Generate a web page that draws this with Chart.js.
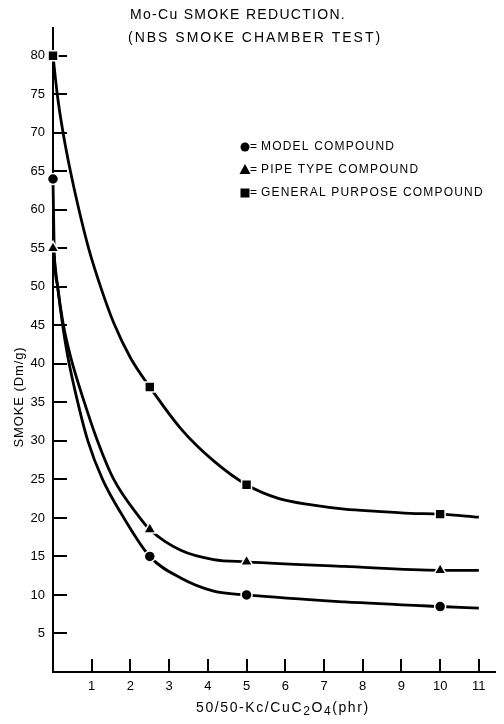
<!doctype html>
<html>
<head>
<meta charset="UTF-8">
<title>Mo-Cu Smoke Reduction</title>
<style>
  body { margin: 0; background: #fff; }
  #wrap { width: 504px; height: 724px; position: relative; }
</style>
</head>
<body>
<div id="wrap"><canvas id="myCanvas"></canvas></div>
<script src="https://cdn.jsdelivr.net/npm/chart.js@4.4.1/dist/chart.umd.min.js"></script>
<script>
// measured points (phr of 50/50 Kc/CuC2O4, smoke Dm/g)
var phr = [0, 2.5, 5, 10];
var modelSmoke = [64, 15, 10, 8.5];
var pipeSmoke = [55, 18.5, 14.3, 13.2];
var generalSmoke = [80, 37, 24.3, 20.5];

// the hand drawn curves
var modelCurveX = [0, 0.03, 0.12, 0.25, 0.38, 0.64, 0.9, 1.28, 1.83, 2.5, 3.3, 4.15, 5, 7.53, 10, 11];
var modelCurveY = [64, 55, 50, 45, 41, 35, 30, 25, 20, 15, 12.2, 10.5, 10, 9.1, 8.5, 8.3];
var pipeCurveX = [0, 0.12, 0.27, 0.45, 0.81, 1.15, 1.57, 2.2, 2.5, 3.3, 4.15, 5, 7.53, 10, 11];
var pipeCurveY = [55, 50, 45, 41, 35, 30, 25, 20.3, 18.5, 15.8, 14.6, 14.3, 13.7, 13.2, 13.2];
var generalCurveX = [0, 0.11, 0.26, 0.45, 0.67, 0.92, 1.23, 1.57, 2.0, 2.5, 3.3, 4.15, 5, 5.84, 6.68, 7.53, 8.37, 9.22, 10, 11];
var generalCurveY = [80, 75, 70, 65, 60, 55, 50, 45.3, 40.8, 37, 31.6, 27.4, 24.3, 22.5, 21.7, 21.15, 20.85, 20.6, 20.5, 20.1];

var xTicks = [1, 2, 3, 4, 5, 6, 7, 8, 9, 10, 11];
var yTicks = [5, 10, 15, 20, 25, 30, 35, 40, 45, 50, 55, 60, 65, 70, 75, 80];

var seriesNames = ['MODEL COMPOUND', 'PIPE TYPE COMPOUND', 'GENERAL PURPOSE COMPOUND'];
var titleLines = ['Mo-Cu SMOKE REDUCTION.', '(NBS SMOKE CHAMBER TEST)'];

var FONT = '"Liberation Sans", Arial, sans-serif';

function pts(xs, ys) {
    return xs.map(function (x, i) { return { x: x, y: ys[i] }; });
}

function markerSet(label, ys, style, r) {
    return {
        label: label,
        data: pts(phr, ys),
        showLine: false,
        pointStyle: style,
        pointRadius: r,
        backgroundColor: '#000',
        borderColor: '#fff',
        borderWidth: 1.5,
        clip: false,
        order: 0
    };
}

function curveSet(xs, ys) {
    return {
        label: '',
        data: pts(xs, ys),
        showLine: true,
        borderColor: '#000',
        borderWidth: 2.8,
        pointRadius: 0,
        cubicInterpolationMode: 'monotone',
        fill: false,
        clip: false,
        order: 1
    };
}

function drawMarker(ctx, style, x, y) {
    ctx.beginPath();
    if (style === 'circle') {
        ctx.arc(x, y, 4.5, 0, Math.PI * 2);
    } else if (style === 'rect') {
        ctx.rect(x - 4.5, y - 4.5, 9, 9);
    } else {
        ctx.moveTo(x, y - 6);
        ctx.lineTo(x + 5.5, y + 4);
        ctx.lineTo(x - 5.5, y + 4);
        ctx.closePath();
    }
    ctx.fillStyle = '#000';
    ctx.fill();
}

// tick marks point inward like on the drawing
var inwardTicks = {
    id: 'inwardTicks',
    beforeDatasetsDraw: function (chart) {
        var ctx = chart.ctx, a = chart.chartArea;
        var xs = chart.scales.x, ys = chart.scales.y;
        ctx.save();
        ctx.strokeStyle = '#000';
        ctx.lineWidth = 2;
        ctx.beginPath();
        yTicks.forEach(function (v) {
            var p = Math.round(ys.getPixelForValue(v));
            ctx.moveTo(a.left, p);
            ctx.lineTo(a.left + 14, p);
        });
        xTicks.forEach(function (v) {
            var p = Math.round(xs.getPixelForValue(v));
            ctx.moveTo(p, a.bottom);
            ctx.lineTo(p, a.bottom - 13);
        });
        ctx.stroke();
        ctx.restore();
    }
};

var texts = {
    id: 'texts',
    afterDraw: function (chart) {
        var ctx = chart.ctx;
        ctx.save();
        ctx.fillStyle = '#000';
        ctx.textBaseline = 'middle';
        ctx.textAlign = 'left';

        // title
        ctx.font = '14px ' + FONT;
        ctx.letterSpacing = '1.3px';
        ctx.fillText(titleLines[0], 130, 15);
        ctx.letterSpacing = '2px';
        ctx.fillText(titleLines[1], 128, 38);

        // legend
        ctx.font = '12px ' + FONT;
        ctx.letterSpacing = '1.2px';
        var styles = ['circle', 'triangle', 'rect'];
        var rows = [147, 170, 193];
        seriesNames.forEach(function (name, i) {
            drawMarker(ctx, styles[i], 245, rows[i]);
            ctx.fillText('=', 250, rows[i]);
            ctx.fillText(name, 261, rows[i]);
        });

        // y title
        ctx.save();
        ctx.font = '13px ' + FONT;
        ctx.letterSpacing = '0.9px';
        ctx.translate(19, 397);
        ctx.rotate(-Math.PI / 2);
        ctx.textAlign = 'center';
        ctx.fillText('SMOKE (Dm/g)', 0, 0);
        ctx.restore();

        // x title with subscripts
        ctx.letterSpacing = '1.6px';
        var parts = [['50/50-Kc/CuC', 0], ['2', 1], ['O', 0], ['4', 1], ['(phr)', 0]];
        var x = 196;
        parts.forEach(function (p) {
            ctx.font = (p[1] ? '12px ' : '14px ') + FONT;
            ctx.fillText(p[0], x, p[1] ? 712 : 708);
            x += ctx.measureText(p[0]).width;
        });
        ctx.restore();
    }
};

var ctx = document.getElementById('myCanvas').getContext('2d');
var myChart = new Chart(ctx, {
    type: 'scatter',
    data: {
        datasets: [
            markerSet(seriesNames[0], modelSmoke, 'circle', 5.5),
            markerSet(seriesNames[1], pipeSmoke, 'triangle', 7),
            markerSet(seriesNames[2], generalSmoke, 'rect', 7),
            curveSet(modelCurveX, modelCurveY),
            curveSet(pipeCurveX, pipeCurveY),
            curveSet(generalCurveX, generalCurveY)
        ]
    },
    options: {
        responsive: true,
        maintainAspectRatio: false,
        animation: false,
        layout: { padding: { top: 28, right: 0, left: 0, bottom: 0 } },
        plugins: {
            legend: { display: false },
            tooltip: { enabled: false },
            title: { display: false }
        },
        scales: {
            x: {
                type: 'linear',
                min: 0,
                max: 11.43,
                grid: { display: false, drawTicks: false },
                border: { display: true, color: '#000', width: 2 },
                ticks: {
                    stepSize: 1,
                    includeBounds: false,
                    autoSkip: false,
                    maxRotation: 0,
                    padding: 7,
                    color: '#000',
                    font: { family: FONT, size: 13 },
                    callback: function (v) {
                        return xTicks.indexOf(Math.round(v)) >= 0 ? String(Math.round(v)) : '';
                    }
                },
                afterFit: function (s) { s.height = 52; }
            },
            y: {
                type: 'linear',
                min: 0,
                max: 83.6,
                grid: { display: false, drawTicks: false },
                border: { display: true, color: '#000', width: 2 },
                ticks: {
                    stepSize: 5,
                    includeBounds: false,
                    autoSkip: false,
                    padding: 8,
                    color: '#000',
                    font: { family: FONT, size: 13 },
                    callback: function (v) {
                        return yTicks.indexOf(Math.round(v)) >= 0 ? String(Math.round(v)) : '';
                    }
                },
                afterFit: function (s) { s.width = 53; }
            }
        }
    },
    plugins: [inwardTicks, texts]
});
</script>
</body>
</html>
